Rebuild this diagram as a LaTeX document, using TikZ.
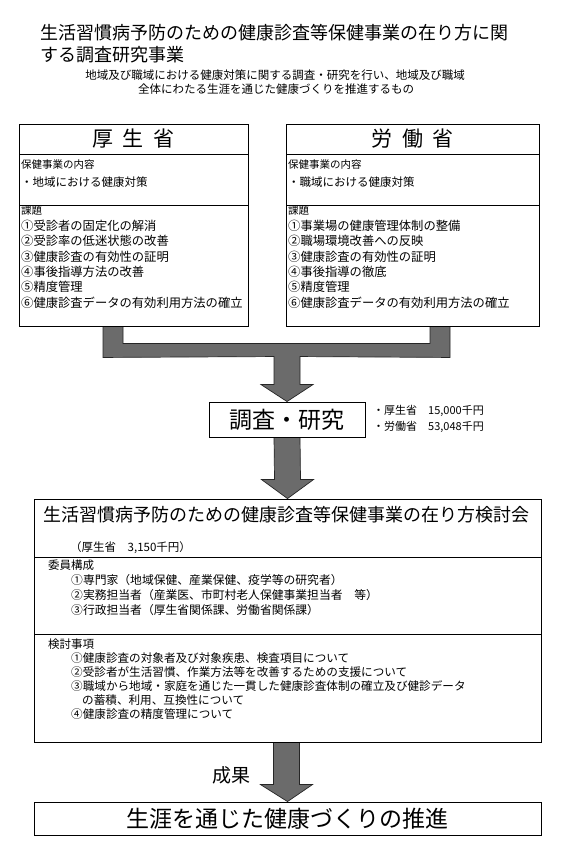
\documentclass[tikz,border=0pt]{standalone}
\usepackage{fontspec}
\setmainfont{Noto Sans CJK JP}
\usetikzlibrary{calc,backgrounds}
\newcommand{\myfs}[1]{\fontsize{#1}{#1}\selectfont}
\tikzset{
  box/.style={draw=black, line width=0.9pt, fill=white, inner sep=0pt},
  txt/.style={anchor=west, inner sep=0pt, text=black},
  ctr/.style={anchor=center, inner sep=0pt, text=black},
  divider/.style={draw=black, line width=0.8pt},
  bigarrow/.style={fill=black!58, draw=black!85, line width=0.7pt, line join=miter}
}
\begin{document}
\begin{tikzpicture}[x=1pt,y=-1pt]
\useasboundingbox (0,0) rectangle (565,853);

% ---- title ----
\node[txt, font=\myfs{18}] (t1) at (40,33) {生活習慣病予防のための健康診査等保健事業の在り方に関};
\node[txt, font=\myfs{18}] (t2) at (40,55) {する調査研究事業};
\node[ctr, font=\myfs{11.5}] (s1) at (275,75) {地域及び職域における健康対策に関する調査・研究を行い、地域及び職域};
\node[ctr, font=\myfs{11.5}] (s2) at (276,89) {全体にわたる生涯を通じた健康づくりを推進するもの};

% ---- boxes ----
\node[box, minimum width=229pt, minimum height=202pt] (kosei) at (133.5,225) {};
\node[box, minimum width=253pt, minimum height=202pt] (rodo) at (412.5,225) {};
\node[box, minimum width=156pt, minimum height=35pt] (chosa) at (287,419.5) {};
\node[box, minimum width=507pt, minimum height=243pt] (kento) at (287.5,620.5) {};
\node[box, minimum width=507pt, minimum height=33pt] (goal) at (287.5,818.5) {};

% ---- arrows (behind boxes) ----
\begin{scope}[on background layer]
\fill[white] (0,0) rectangle (565,853);
\filldraw[bigarrow]
  ($(kosei.south)+(-30.5,-1)$) -- ($(kosei.south)+(-30.5,31)$)
  -- ($(chosa.north)+(-13,-45)$) -- ($(chosa.north)+(-13,-17)$)
  -- ($(chosa.north)+(-26,-17)$) -- (chosa.north)
  -- ($(chosa.north)+(26,-17)$) -- ($(chosa.north)+(13,-17)$)
  -- ($(chosa.north)+(13,-45)$) -- ($(rodo.south)+(37.5,31)$)
  -- ($(rodo.south)+(37.5,-1)$) -- ($(rodo.south)+(17.5,-1)$)
  -- ($(rodo.south)+(17.5,17)$) -- ($(kosei.south)+(-10.5,17)$)
  -- ($(kosei.south)+(-10.5,-1)$) -- cycle;
\filldraw[bigarrow]
  ($(chosa.south)+(-13,-1)$) -- ($(kento.north)+(-13,-19)$)
  -- ($(kento.north)+(-26,-19)$) -- (kento.north)
  -- ($(kento.north)+(26,-19)$) -- ($(kento.north)+(13,-19)$)
  -- ($(chosa.south)+(13,-1)$) -- cycle;
\filldraw[bigarrow]
  ($(kento.south)+(-14,-1)$) -- ($(goal.north)+(-14,-17)$)
  -- ($(goal.north)+(-27,-17)$) -- (goal.north)
  -- ($(goal.north)+(25,-17)$) -- ($(goal.north)+(12,-17)$)
  -- ($(kento.south)+(12,-1)$) -- cycle;
\end{scope}

% ---- left box (厚生省) ----
\draw[divider] (19,154) -- (248,154);
\draw[divider] (19,205) -- (248,205);
\node[ctr, font=\myfs{21}] (kh) at (133.5,139) {厚\hspace{10pt}生\hspace{10pt}省};
\node[txt, font=\myfs{10.5}] (k1) at (21,165) {保健事業の内容};
\node[txt, font=\myfs{11.5}] (k2) at (21,182) {・地域における健康対策};
\node[txt, font=\myfs{10.5}] (k3) at (21,211) {課題};
\node[txt, font=\myfs{12.3}] (k4) at (21,226) {①受診者の固定化の解消};
\node[txt, font=\myfs{12.3}] (k5) at (21,241) {②受診率の低迷状態の改善};
\node[txt, font=\myfs{12.3}] (k6) at (21,257) {③健康診査の有効性の証明};
\node[txt, font=\myfs{12.3}] (k7) at (21,272) {④事後指導方法の改善};
\node[txt, font=\myfs{12.3}] (k8) at (21,287) {⑤精度管理};
\node[txt, font=\myfs{12.3}] (k9) at (21,303) {⑥健康診査データの有効利用方法の確立};

% ---- right box (労働省) ----
\draw[divider] (286,154) -- (539,154);
\draw[divider] (286,205) -- (539,205);
\node[ctr, font=\myfs{21}] (rh) at (412.5,139) {労\hspace{10pt}働\hspace{10pt}省};
\node[txt, font=\myfs{10.5}] (r1) at (288,165) {保健事業の内容};
\node[txt, font=\myfs{11.5}] (r2) at (288,182) {・職域における健康対策};
\node[txt, font=\myfs{10.5}] (r3) at (288,211) {課題};
\node[txt, font=\myfs{12.3}] (r4) at (288,226) {①事業場の健康管理体制の整備};
\node[txt, font=\myfs{12.3}] (r5) at (288,241) {②職場環境改善への反映};
\node[txt, font=\myfs{12.3}] (r6) at (288,257) {③健康診査の有効性の証明};
\node[txt, font=\myfs{12.3}] (r7) at (288,272) {④事後指導の徹底};
\node[txt, font=\myfs{12.3}] (r8) at (288,287) {⑤精度管理};
\node[txt, font=\myfs{12.3}] (r9) at (288,303) {⑥健康診査データの有効利用方法の確立};

% ---- 調査・研究 ----
\node[ctr, font=\myfs{23}] (ch) at (chosa.center) {調査・研究};
\node[txt, font=\myfs{11}] (m1) at (373,411) {・厚生省　15,000千円};
\node[txt, font=\myfs{11}] (m2) at (373,427) {・労働省　53,048千円};

% ---- 検討会 ----
\node[txt, font=\myfs{18}] (kt) at (43,515) {生活習慣病予防のための健康診査等保健事業の在り方検討会};
\node[txt, font=\myfs{11.5}] (kb) at (70,548) {（厚生省　3,150千円）};
\draw[divider] (34,557) -- (541,557);
\node[txt, font=\myfs{11.5}] (a0) at (48,565) {委員構成};
\node[txt, font=\myfs{11.8}] (a1) at (71,580) {①専門家（地域保健、産業保健、疫学等の研究者）};
\node[txt, font=\myfs{11.8}] (a2) at (71,595) {②実務担当者（産業医、市町村老人保健事業担当者　等）};
\node[txt, font=\myfs{11.8}] (a3) at (71,610) {③行政担当者（厚生省関係課、労働省関係課）};
\draw[divider] (34,634) -- (541,634);
\node[txt, font=\myfs{11.5}] (b0) at (48,644) {検討事項};
\node[txt, font=\myfs{11.6}] (b1) at (71,658) {①健康診査の対象者及び対象疾患、検査項目について};
\node[txt, font=\myfs{11.6}] (b2) at (71,672) {②受診者が生活習慣、作業方法等を改善するための支援について};
\node[txt, font=\myfs{11.6}] (b3) at (71,686) {③職域から地域・家庭を通じた一貫した健康診査体制の確立及び健診データ};
\node[txt, font=\myfs{11.6}] (b4) at (82,700) {の蓄積、利用、互換性について};
\node[txt, font=\myfs{11.6}] (b5) at (71,714) {④健康診査の精度管理について};

% ---- 成果 ----
\node[ctr, font=\myfs{19}] (sk) at (231,775) {成果};
\node[ctr, font=\myfs{23}] (gt) at (goal.center) {生涯を通じた健康づくりの推進};
\end{tikzpicture}
\end{document}
